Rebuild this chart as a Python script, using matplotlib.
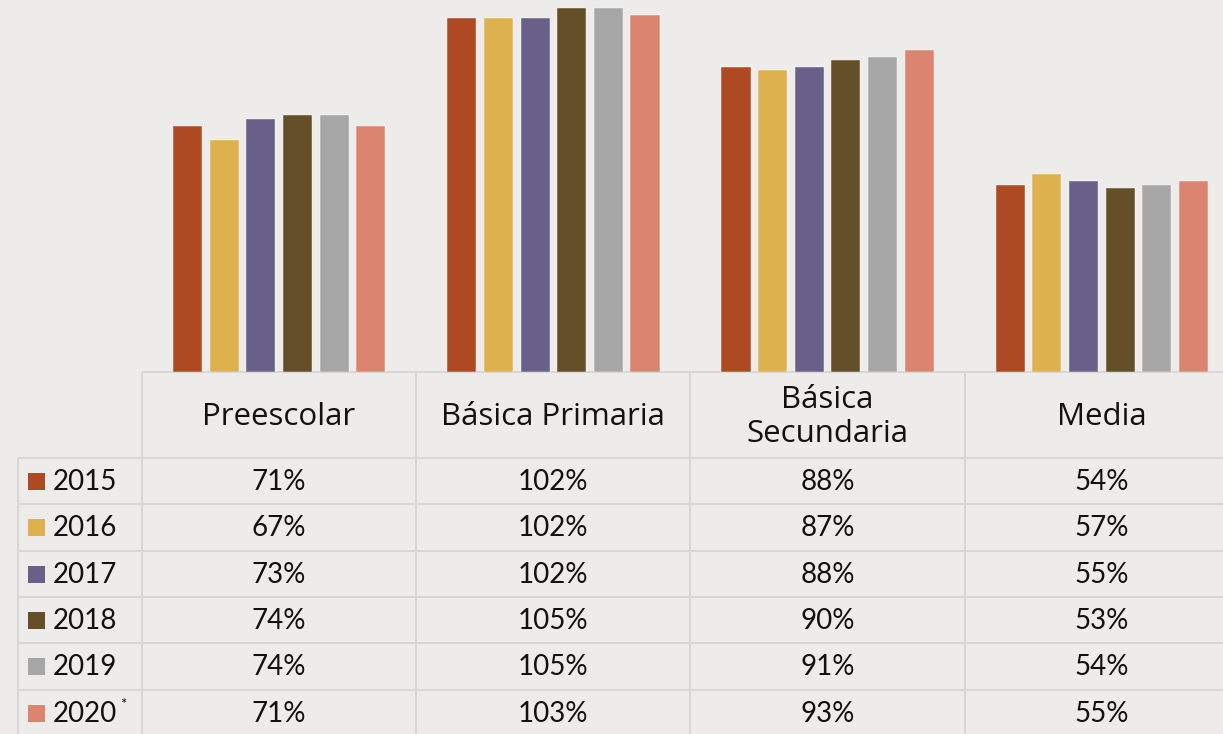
import numpy as np
import matplotlib
matplotlib.use("Agg")
import matplotlib.pyplot as plt

plt.rcParams['font.family'] = ['Lato', 'DejaVu Sans']

categories = ['Preescolar', 'Básica Primaria', 'Básica\nSecundaria', 'Media']
years = ['2015', '2016', '2017', '2018', '2019', '2020']
values = {
    '2015': [71, 102, 88, 54],
    '2016': [67, 102, 87, 57],
    '2017': [73, 102, 88, 55],
    '2018': [74, 105, 90, 53],
    '2019': [74, 105, 91, 54],
    '2020': [71, 103, 93, 55],
}
colors = ['#AD4A23', '#DDB14D', '#686088', '#654F28', '#A6A6A6', '#DB846F']

bg = '#EEECEA'
grid = '#D9D7D5'
W, H = 1223, 734

fig = plt.figure(figsize=(W / 100, H / 100), dpi=100, facecolor=bg)

# table drawn in pixel coordinates on a full-figure axes
tab = fig.add_axes([0, 0, 1, 1])
tab.set_xlim(0, W)
tab.set_ylim(H, 0)
tab.axis('off')
tab.set_facecolor(bg)

col_x = [142, 416, 690, 965, 1239]
label_left = 18
header_top, header_bot = 372, 458
row_h = 46.3
row_y = [header_bot + i * row_h for i in range(len(years) + 1)]

lw = 1.5
tab.hlines(header_top, col_x[0], W + 20, color=grid, lw=lw)
for y in row_y:
    tab.hlines(y, label_left, W + 20, color=grid, lw=lw)
tab.vlines(label_left, header_bot, H + 20, color=grid, lw=lw)
for x in col_x:
    tab.vlines(x, header_top, H + 20, color=grid, lw=lw)

fs = 20
for j, cat in enumerate(categories):
    cx = (col_x[j] + col_x[j + 1]) / 2
    tab.text(cx, (header_top + header_bot) / 2 + 2, cat, ha='center', va='center',
             fontsize=22.5, family=['Open Sans', 'DejaVu Sans'], color='#111111',
             linespacing=1.2)

for i, yr in enumerate(years):
    cy = (row_y[i] + row_y[i + 1]) / 2
    tab.add_patch(plt.Rectangle((28, cy - 8), 17, 17, color=colors[i], lw=0))
    tab.text(53, cy + 1, yr, ha='left', va='center', fontsize=fs, color='#111111')
    if yr == '2020':
        tab.text(120, cy - 8, '*', ha='left', va='center', fontsize=11, color='#111111')
    for j in range(len(categories)):
        cx = (col_x[j] + col_x[j + 1]) / 2
        tab.text(cx, cy + 1, f'{values[yr][j]}%', ha='center', va='center',
                 fontsize=fs, color='#111111')

# bar chart
ax = fig.add_axes([col_x[0] / W, (H - header_top) / H,
                   (col_x[-1] - col_x[0]) / W, header_top / H])
ax.set_facecolor('none')
x = np.arange(len(categories)) + 0.5
width = 0.106
step = 0.1336
for i, yr in enumerate(years):
    ax.bar(x + (i - 2.5) * step, values[yr], width=width, color=colors[i],
           edgecolor='white', linewidth=0.3)
ax.set_xlim(0, len(categories))
ax.set_ylim(0, 107.3)
ax.axis('off')

fig.savefig('out.png', dpi=100, facecolor=bg)
